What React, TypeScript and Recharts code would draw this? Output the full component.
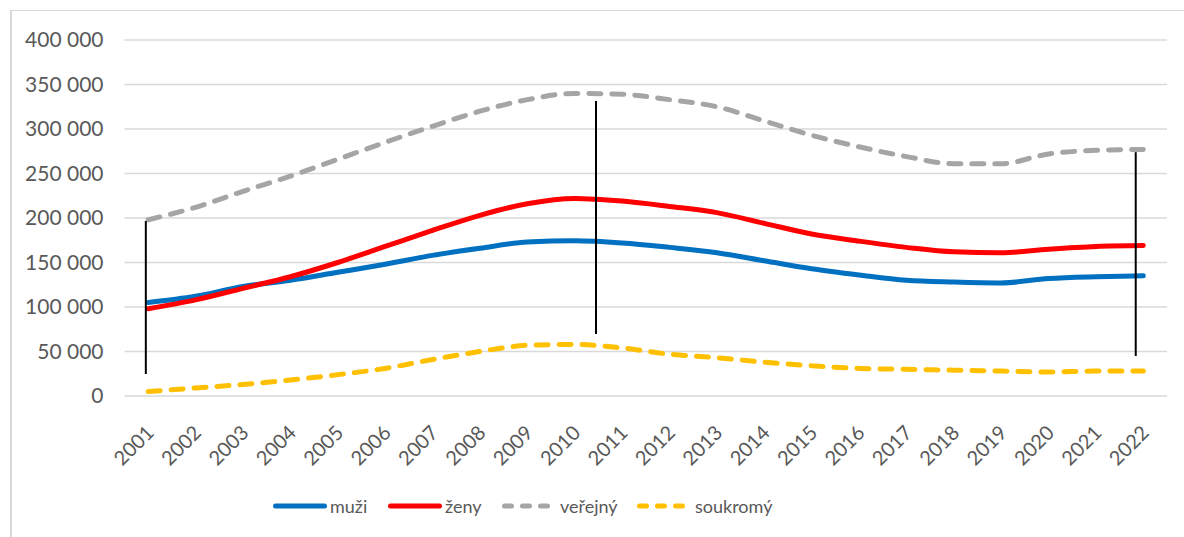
import { LineChart, Line, XAxis, YAxis, CartesianGrid, Legend, ReferenceLine } from 'recharts';

const years = [2001, 2002, 2003, 2004, 2005, 2006, 2007, 2008, 2009, 2010, 2011, 2012, 2013, 2014, 2015, 2016, 2017, 2018, 2019, 2020, 2021, 2022];

const muzi = [105000, 112000, 123000, 130000, 139000, 148000, 158000, 166000, 173000, 174500, 172000, 167000, 161000, 152000, 143000, 136000, 130000, 128000, 127000, 132000, 134000, 135000];
const zeny = [98000, 108000, 121000, 134000, 150000, 168000, 186000, 203000, 216000, 222000, 219000, 213000, 206000, 194000, 182000, 174000, 167000, 162000, 161000, 165000, 168000, 169000];
const verejny = [198000, 212000, 230000, 247000, 266000, 285000, 303000, 320000, 333000, 340000, 339000, 333000, 325000, 309000, 293000, 280000, 269000, 261000, 261000, 272000, 276000, 277000];
const soukromy = [5000, 9000, 13000, 18000, 24000, 31000, 41000, 50000, 57000, 58000, 54000, 47000, 43000, 38000, 34000, 31000, 30000, 29000, 28000, 27000, 28000, 28000];

const yTicks = [0, 50000, 100000, 150000, 200000, 250000, 300000, 350000, 400000];

// black vertical marker lines (x as fractional year, y from/to)
const markerX = [2000.95, 2010.45, 2021.84];
const markerFrom = [24700, 69700, 45000];
const markerTo = [196600, 331500, 274000];

const series = [
  { key: 'muzi', name: 'muži', color: '#0070C0', dash: undefined },
  { key: 'zeny', name: 'ženy', color: '#FF0000', dash: undefined },
  { key: 'verejny', name: 'veřejný', color: '#A5A5A5', dash: '12 11' },
  { key: 'soukromy', name: 'soukromý', color: '#FFC000', dash: '12 11' },
];

// legend slot widths, px
const legendSlots = [115, 114, 135, 140];

const data = years.map((year, i) => ({
  year,
  muzi: muzi[i],
  zeny: zeny[i],
  verejny: verejny[i],
  soukromy: soukromy[i],
}));

const FONT = 'Lato, "Open Sans", sans-serif';
const TEXT = '#595959';

const fmt = (v: number) => v.toLocaleString('en-US').replace(/,/g, ' ');

const XTick = (props: any) => {
  const { x, y, payload } = props;
  const tx = x + 7;
  const ty = y + 30;
  return (
    <text
      x={tx}
      y={ty}
      textAnchor="end"
      fill={TEXT}
      fontSize={20}
      fontFamily={FONT}
      transform={`rotate(-45, ${tx}, ${ty})`}
    >
      {payload.value}
    </text>
  );
};

const LegendContent = () => (
  <div style={{ display: 'flex', alignItems: 'center', fontFamily: FONT, fontSize: 18, color: TEXT, whiteSpace: 'nowrap' }}>
    {series.map((s, i) => {
      const dashed = !!s.dash;
      const w = dashed ? 48 : 54;
      return (
        <div key={s.key} style={{ display: 'flex', alignItems: 'center', width: legendSlots[i] }}>
          <svg width={w} height={10}>
            <line
              x1={2.5}
              x2={w - 2.5}
              y1={5}
              y2={5}
              stroke={s.color}
              strokeWidth={5}
              strokeLinecap="round"
              strokeDasharray={dashed ? '7 11' : undefined}
            />
          </svg>
          <span style={{ marginLeft: dashed ? 10 : 3, lineHeight: '20px' }}>{s.name}</span>
        </div>
      );
    })}
  </div>
);

export default function App() {
  return (
    <div style={{ position: 'absolute', left: 0, top: 0, width: 1184, height: 537, background: '#fff', overflow: 'hidden' }}>
      <div
        style={{
          position: 'absolute',
          left: 10,
          top: 10,
          width: 1200,
          height: 600,
          borderLeft: '2px solid #d9d9d9',
          borderTop: '1px solid #d9d9d9',
        }}
      />
      <div style={{ position: 'absolute', left: 0, top: 0 }}>
        <LineChart width={1184} height={537} data={data} margin={{ top: 40, right: 17, left: 0, bottom: 61 }}>
          <CartesianGrid vertical={false} stroke="#d9d9d9" strokeWidth={1.5} />
          <XAxis
            dataKey="year"
            type="number"
            domain={[2000.5, 2022.5]}
            ticks={years}
            interval={0}
            tick={<XTick />}
            tickLine={false}
            axisLine={false}
            height={80}
          />
          <YAxis
            domain={[0, 400000]}
            ticks={yTicks}
            tickFormatter={fmt}
            tickLine={false}
            axisLine={false}
            width={124.5}
            tickMargin={15}
            tick={{ fill: TEXT, fontSize: 21, fontFamily: FONT }}
          />
          {series.map((s) => (
            <Line
              key={s.key}
              type="monotone"
              dataKey={s.key}
              name={s.name}
              stroke={s.color}
              strokeWidth={5}
              strokeDasharray={s.dash}
              strokeLinecap="round"
              dot={false}
              activeDot={false}
              isAnimationActive={false}
            />
          ))}
          {markerX.map((mx, i) => (
            <ReferenceLine
              key={i}
              segment={[
                { x: mx, y: markerFrom[i] },
                { x: mx, y: markerTo[i] },
              ]}
              stroke="#000"
              strokeWidth={2}
            />
          ))}
          <Legend
            content={<LegendContent />}
            wrapperStyle={{ position: 'absolute', left: 273, top: 496, width: 'auto', height: 0, overflow: 'visible' }}
          />
        </LineChart>
      </div>
    </div>
  );
}
